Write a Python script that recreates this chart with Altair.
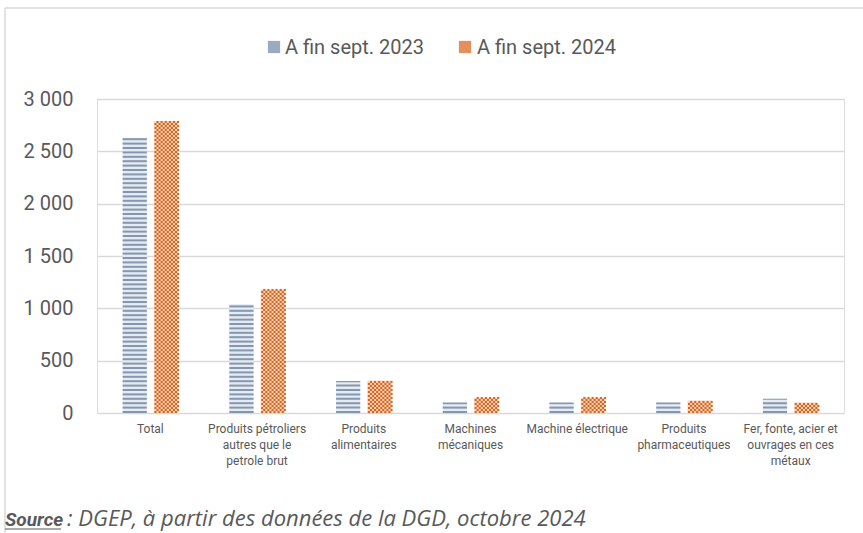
import altair as alt
import pandas as pd

# ---------------- data ----------------
categories = [
    "Total",
    "Produits pétroliers\nautres que le\npetrole brut",
    "Produits\nalimentaires",
    "Machines\nmécaniques",
    "Machine électrique",
    "Produits\npharmaceutiques",
    "Fer, fonte, acier et\nouvrages en ces\nmétaux",
]
series = ["A fin sept. 2023", "A fin sept. 2024"]
values_2023 = [2630, 1040, 305, 100, 100, 100, 135]
values_2024 = [2790, 1180, 310, 145, 145, 120, 100]
y_ticks = [0, 500, 1000, 1500, 2000, 2500, 3000]
source_bold = "Source"
source_rest = ": DGEP, à partir des données de la DGD, octobre 2024"

# ---------------- layout / style ----------------
W, H = 747, 314
PAD_L, PAD_T = 97, 99
GREY = "#595959"
GRID = "#d9d9d9"
BLUE_BG = "#e6ebf2"
BLUE = "#8497b0"
ORANGE_BG = "#f7d9c4"
ORANGE = "#d8661f"
FONT = "Roboto"

bars = pd.DataFrame(
    [{"cat": c, "series": series[0], "value": v} for c, v in zip(categories, values_2023)]
    + [{"cat": c, "series": series[1], "value": v} for c, v in zip(categories, values_2024)]
)

# stripe pattern for 2023 bars (derived from the values)
units_per_px = 3000 / H
stripe_step = 4.4 * units_per_px
stripe_thick = 2.0 * units_per_px
stripes = []
for c, v in zip(categories, values_2023):
    k = 0
    while k * stripe_step < v:
        y0 = k * stripe_step
        y1 = min(y0 + stripe_thick, v)
        stripes.append({"cat": c, "series": series[0], "y0": y0, "y1": y1})
        k += 1
stripes = pd.DataFrame(stripes)

# checker pattern cells for 2024 bars (sub-columns of the group band)
N_SUB = 28
row_step = 2.0 * units_per_px
checks = []
for c, v in zip(categories, values_2024):
    k = 0
    while (k + 0.5) * row_step <= v:
        cols = range(16, 27, 2) if k % 2 == 0 else range(17, 28, 2)
        for col in cols:
            checks.append({"cat": c, "col": col, "y": (k + 0.5) * row_step})
        k += 1
checks = pd.DataFrame(checks)

x_enc = alt.X(
    "cat:N",
    sort=categories,
    scale=alt.Scale(paddingInner=0.48, paddingOuter=0.24),
    axis=alt.Axis(
        title=None,
        labelAngle=0,
        labelExpr="split(datum.label, '\\n')",
        labelFont=FONT,
        labelFontSize=12,
        labelColor=GREY,
        labelLineHeight=16,
        labelPadding=10,
        domain=False,
        ticks=False,
    ),
)
xoff = alt.XOffset("series:N", scale=alt.Scale(domain=series, paddingInner=0.226, paddingOuter=0))
y_scale = alt.Scale(domain=[0, 3000], nice=False)

base_bars = alt.Chart(bars).mark_bar().encode(
    x=x_enc,
    xOffset=xoff,
    y=alt.Y(
        "value:Q",
        scale=y_scale,
        axis=alt.Axis(
            title=None,
            values=y_ticks,
            labelExpr="replace(format(datum.value, ','), ',', ' ')",
            labelFont=FONT,
            labelFontSize=20,
            labelColor=GREY,
            labelPadding=24,
            grid=True,
            gridColor=GRID,
            gridWidth=1.5,
            domain=False,
            ticks=False,
        ),
    ),
    color=alt.Color("series:N", scale=alt.Scale(domain=series, range=[BLUE_BG, ORANGE_BG]), legend=None),
)

stripe_layer = alt.Chart(stripes).mark_bar(color=BLUE).encode(
    x=alt.X("cat:N", sort=categories),
    xOffset=xoff,
    y=alt.Y("y0:Q", scale=y_scale),
    y2="y1:Q",
)

bars_layer = alt.layer(base_bars, stripe_layer)

check_layer = alt.Chart(checks).mark_square(size=4.5, color=ORANGE, opacity=1).encode(
    x=alt.X("cat:N", sort=categories),
    xOffset=alt.XOffset(
        "col:O", scale=alt.Scale(domain=list(range(N_SUB)), paddingInner=0, paddingOuter=0)
    ),
    y=alt.Y("y:Q", scale=y_scale),
)

# manual legend (top, centered)
legend_df = pd.DataFrame({"label": series})
leg_sym1 = alt.Chart(legend_df).transform_filter(alt.datum.label == series[0]).mark_square(
    size=150, color="#9aaac0", opacity=1
).encode(x=alt.value(274 - PAD_L), y=alt.value(47 - PAD_T))
leg_sym2 = alt.Chart(legend_df).transform_filter(alt.datum.label == series[1]).mark_square(
    size=150, color="#e2915c", opacity=1
).encode(x=alt.value(465 - PAD_L), y=alt.value(47 - PAD_T))
leg_txt1 = alt.Chart(legend_df).transform_filter(alt.datum.label == series[0]).mark_text(
    font=FONT, fontSize=20, color=GREY, align="left", baseline="alphabetic"
).encode(text="label:N", x=alt.value(285 - PAD_L), y=alt.value(54 - PAD_T))
leg_txt2 = alt.Chart(legend_df).transform_filter(alt.datum.label == series[1]).mark_text(
    font=FONT, fontSize=20, color=GREY, align="left", baseline="alphabetic"
).encode(text="label:N", x=alt.value(477 - PAD_L), y=alt.value(54 - PAD_T))

# frame lines and source note
frame = alt.Chart(pd.DataFrame({"a": [0]})).mark_rule(color=GRID, strokeWidth=1.5)
frame_top = frame.encode(x=alt.value(-92), x2=alt.value(863 - PAD_L), y=alt.value(8 - PAD_T))
frame_left = frame.encode(x=alt.value(-92), y=alt.value(8 - PAD_T), y2=alt.value(533 - PAD_T))

src_bold = alt.Chart(pd.DataFrame({"t": [source_bold]})).mark_text(
    font=FONT, fontSize=19, fontStyle="italic", fontWeight="bold", color=GREY, align="left", baseline="alphabetic"
).encode(text="t:N", x=alt.value(5 - PAD_L), y=alt.value(526 - PAD_T))
src_rest = alt.Chart(pd.DataFrame({"t": [source_rest]})).mark_text(
    font="Open Sans", fontSize=22, fontStyle="italic", color=GREY, align="left", baseline="alphabetic"
).encode(text="t:N", x=alt.value(67 - PAD_L), y=alt.value(526 - PAD_T))
src_line = alt.Chart(pd.DataFrame({"a": [0]})).mark_rule(color=GREY, strokeWidth=1.2).encode(
    x=alt.value(5 - PAD_L), x2=alt.value(61 - PAD_L), y=alt.value(529 - PAD_T)
)

chart = (
    alt.layer(
        bars_layer, check_layer,
        leg_sym1, leg_sym2, leg_txt1, leg_txt2,
        frame_top, frame_left, src_bold, src_rest, src_line,
    )
    .resolve_scale(xOffset="independent")
    .properties(
        width=W,
        height=H,
        autosize=alt.AutoSizeParams(type="none"),
        padding={"left": PAD_L, "top": PAD_T, "right": 863 - PAD_L - W, "bottom": 533 - PAD_T - H},
    )
    .configure_view(stroke=None)
    .configure(background="white")
)

chart.save("out.html", embed_options={"renderer": "svg", "actions": False})
